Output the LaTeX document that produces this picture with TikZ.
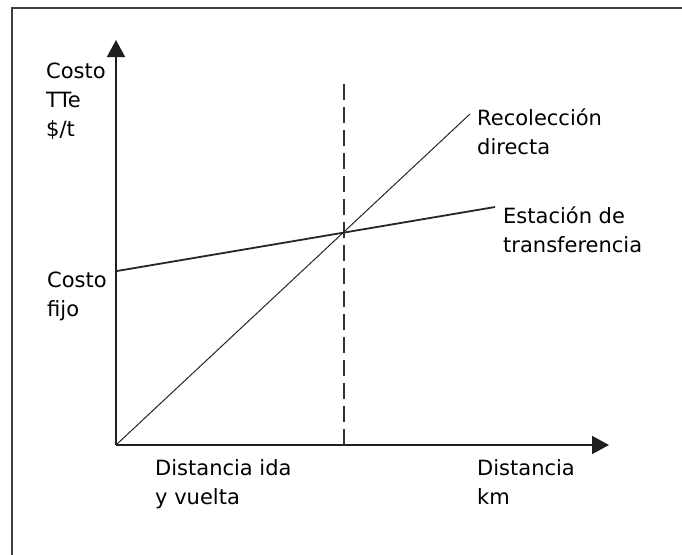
\documentclass[tikz,border=0pt]{standalone}
\usepackage{fontspec}
\setmainfont{DejaVu Sans}
\usetikzlibrary{arrows.meta}
\begin{document}
\begin{tikzpicture}[x=1pt,y=-1pt,
  lbl/.style={anchor=base west,inner sep=0pt,align=left,
    font=\fontsize{21}{29}\selectfont},
  axis/.style={line width=1.8pt,draw=black!88,-{Triangle[length=17pt,width=18pt]}},
  frame/.style={line width=1.5pt,draw=black!75},
  thin/.style={line width=1pt,draw=black!85},
  thick/.style={line width=1.8pt,draw=black!85},
  dashline/.style={line width=1.8pt,draw=black!80,dash pattern=on 16pt off 7pt}]
\useasboundingbox (0,0) rectangle (682,554);
\fill[white] (0,0) rectangle (682,554);
% frame
\coordinate (fbl) at (12,560);
\coordinate (ftl) at (12,8);
\coordinate (ftr) at (690,8);
\draw[frame] (fbl) -- (ftl) -- (ftr);
% axes
\coordinate (O) at (116,445);
\coordinate (ytip) at (116,40);
\coordinate (xtip) at (609,445);
\draw[axis] (O) -- (ytip);
\draw[axis] (O) -- (xtip);
% dashed line
\coordinate (dtop) at (344,81);
\coordinate (dbot) at (344,445);
\draw[dashline] (dbot) -- (dtop);
% lines
\coordinate (ts) at (117,271);
\coordinate (te) at (495,207);
\draw[thick] (ts) -- (te);
\coordinate (de) at (470,114);
\draw[thin] (O) -- (de);
% labels (base anchor = baseline of last line)
\node[lbl] (ylab) at (46,136) {Costo\\TTe\\\$/t};
\node[lbl] (fijo) at (47,316) {Costo\\fijo};
\node[lbl] (rd) at (477,154) {Recolección\\directa};
\node[lbl] (et) at (503,252) {Estación de\\transferencia};
\node[lbl] (diy) at (155,504) {Distancia ida\\y vuelta};
\node[lbl] (dkm) at (477,504) {Distancia\\km};
\end{tikzpicture}
\end{document}
